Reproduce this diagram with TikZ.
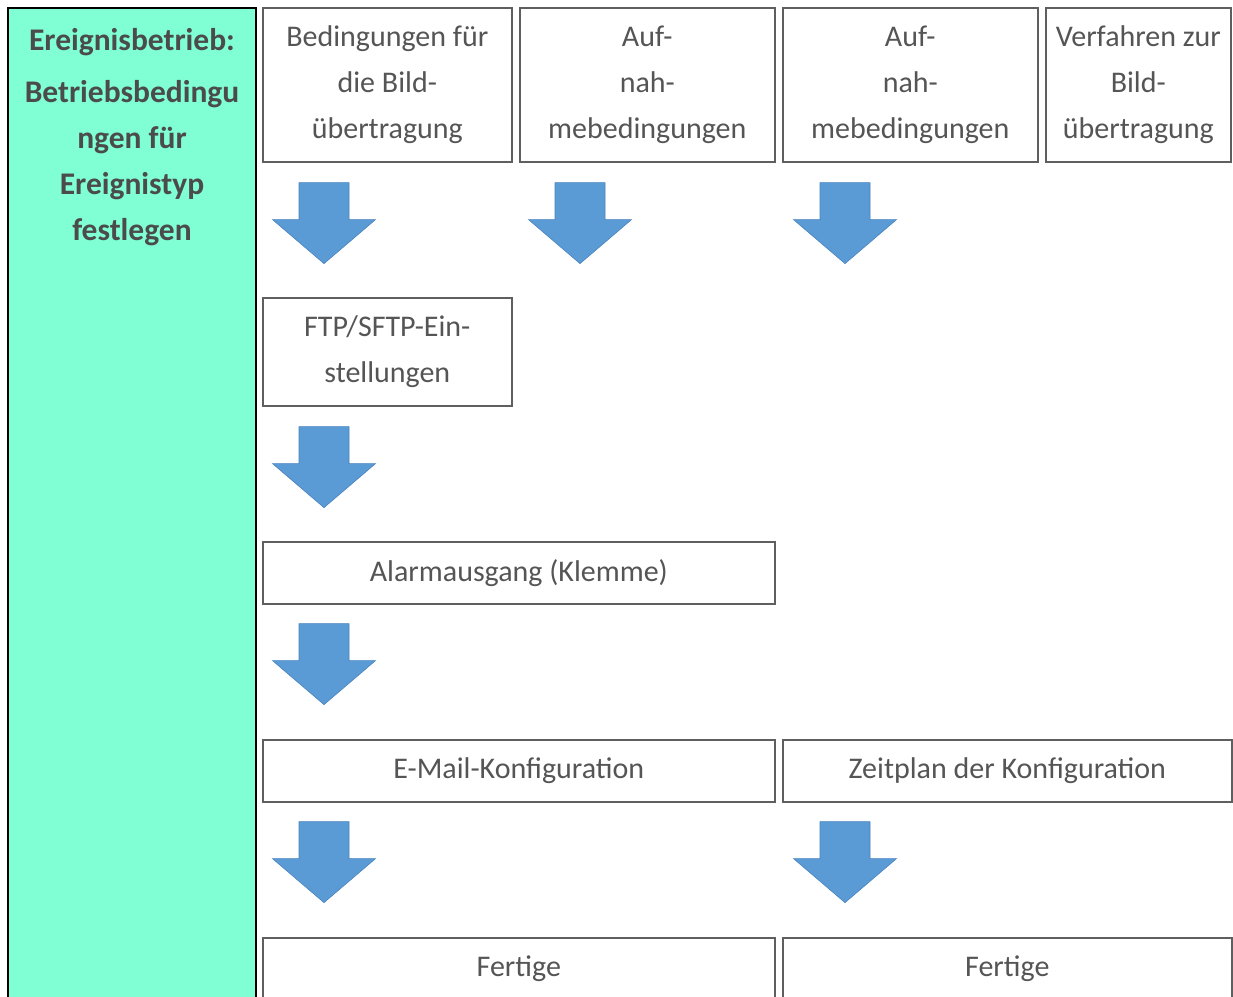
\documentclass[tikz,border=0pt]{standalone}
\usepackage{fontspec}
\setmainfont{Carlito}
\usetikzlibrary{positioning,calc}
\definecolor{panelgreen}{RGB}{128,255,212}
\definecolor{boxline}{RGB}{95,95,95}
\definecolor{txtgray}{RGB}{85,85,85}
\definecolor{arrowblue}{RGB}{91,155,213}
\definecolor{arrowedge}{RGB}{72,130,190}

\begin{document}
\begin{tikzpicture}[x=1pt,y=-1pt,
  stepbox/.style={draw=boxline, line width=1.6pt, fill=white, text=txtgray,
    align=center, inner sep=0pt, anchor=north west,
    font=\fontsize{30}{46}\selectfont},
  blockdown/.pic={
    \filldraw[fill=arrowblue, draw=arrowedge, line width=0.6pt]
      (-25,0) -- (25,0) -- (25,37) -- (51.5,37) -- (0,81)
      -- (-51.5,37) -- (-25,37) -- cycle;
  }]
\useasboundingbox (0,0) rectangle (1233,996);
\clip (0,0) rectangle (1233,996);
% Left panel
\node[draw=black, fill=panelgreen, line width=2pt, inner sep=0pt,
  minimum width=248pt, minimum height=1010pt, anchor=north west] (panel) at (7,7) {};
\node[anchor=north, align=center, inner sep=0pt, text={rgb,255:red,75;green,75;blue,75},
  font=\fontsize{31.5}{46}\selectfont\bfseries] (paneltext) at ($(panel.north)+(0,21)$)
  {Ereignisbetrieb:\\[6pt]Betriebsbedingu\\ngen für\\Ereignistyp\\festlegen};
% Top row
\node[stepbox, minimum width=249pt, minimum height=154pt] (bild) at (262,7)
  {Bedingungen für\\die Bild-\\übertragung};
\node[stepbox, minimum width=255pt, minimum height=154pt] (aufnahme1) at (519,7)
  {Auf-\\nah-\\mebedingungen};
\node[stepbox, minimum width=255pt, minimum height=154pt] (aufnahme2) at (782,7)
  {Auf-\\nah-\\mebedingungen};
\node[stepbox, minimum width=185pt, minimum height=154pt] (verfahren) at (1045,7)
  {Verfahren zur\\Bild-\\übertragung};
% Lower steps
\node[stepbox, minimum width=249pt, minimum height=108pt] (ftp) at (262,297)
  {FTP/SFTP-Ein-\\stellungen};
\node[stepbox, minimum width=512pt, minimum height=62pt] (alarm) at (262,541)
  {Alarmausgang (Klemme)};
\node[stepbox, minimum width=512pt, minimum height=62pt] (mail) at (262,739)
  {E-Mail-Konfiguration};
\node[stepbox, minimum width=449pt, minimum height=62pt] (zeitplan) at (782,739)
  {Zeitplan der Konfiguration};
\node[stepbox, minimum width=512pt, minimum height=62pt] (fertig1) at (262,937)
  {Fertige};
\node[stepbox, minimum width=449pt, minimum height=62pt] (fertig2) at (782,937)
  {Fertige};
% Block arrows
\foreach \n/\dx in {bild/62,aufnahme1/61,aufnahme2/63,ftp/62}
  \pic at ($(\n.south west)+(\dx,20)$) {blockdown};
\foreach \n/\dx in {alarm/62,mail/62,zeitplan/63}
  \pic at ($(\n.south west)+(\dx,19)$) {blockdown};
\end{tikzpicture}
\end{document}
